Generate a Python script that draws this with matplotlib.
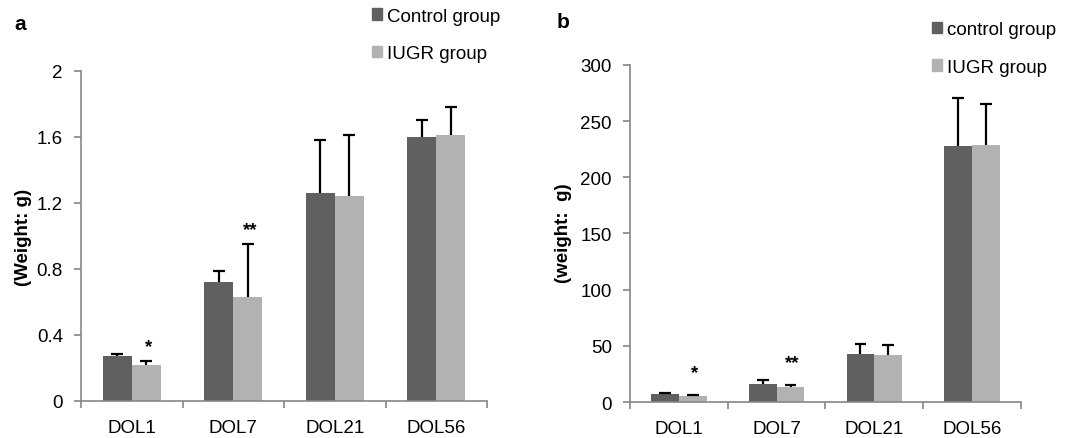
import numpy as np
import matplotlib
matplotlib.use("Agg")
import matplotlib.pyplot as plt
from matplotlib.patches import Patch

plt.rcParams['font.family'] = ['Liberation Sans', 'DejaVu Sans']

days = ['DOL1', 'DOL7', 'DOL21', 'DOL56']

# panel a: organ weight (g), mean and upper error
a_ctrl = [0.27, 0.72, 1.26, 1.60]
a_ctrl_sd = [0.015, 0.07, 0.32, 0.10]
a_iugr = [0.22, 0.63, 1.24, 1.61]
a_iugr_sd = [0.02, 0.32, 0.37, 0.17]
a_stars = ['*', '**', '', '']
a_ticks = [0, 0.4, 0.8, 1.2, 1.6, 2]
a_ticklabels = ['0', '0.4', '0.8', '1.2', '1.6', '2']

# panel b: body weight (g)
b_ctrl = [7, 16, 43, 228]
b_ctrl_sd = [0.8, 3.5, 9, 43]
b_iugr = [5.5, 13, 42, 229]
b_iugr_sd = [1.0, 2.0, 8.5, 36]
b_stars = ['*', '**', '', '']
b_ticks = [0, 50, 100, 150, 200, 250, 300]

dark = '#606060'
light = '#b2b2b2'
axcol = '#868686'
fs = 13.5

fig = plt.figure(figsize=(10.72, 4.39), dpi=100)
ax1 = fig.add_axes([0.0756, 0.0843, 0.3787, 0.7517])
ax2 = fig.add_axes([0.5877, 0.082, 0.3647, 0.7677])


def draw(ax, ctrl, ctrl_sd, iugr, iugr_sd, stars, ticks, ymax, star_pad):
    x = np.arange(len(days))
    w = 0.285
    ax.bar(x - w / 2, ctrl, w, color=dark, zorder=2)
    ax.bar(x + w / 2, iugr, w, color=light, zorder=2)
    for xs, m, s in [(x - w / 2, ctrl, ctrl_sd), (x + w / 2, iugr, iugr_sd)]:
        top = np.array(m) + np.array(s)
        ax.vlines(xs, m, top, color='black', lw=1.6, zorder=3)
        ax.hlines(top, xs - 0.06, xs + 0.06, color='black', lw=1.6, zorder=3)
    for i, st in enumerate(stars):
        if st:
            ax.text(x[i] + w / 2 + 0.02, iugr[i] + iugr_sd[i] + star_pad, st,
                    ha='center', va='center', fontsize=fs, fontweight='bold')
    ax.set_xlim(-0.5, len(days) - 0.5)
    ax.set_ylim(0, ymax)
    ax.set_yticks(ticks)
    ax.set_xticks(x)
    ax.set_xticklabels(days, fontsize=fs)
    ax.set_xticks(np.arange(len(days) + 1) - 0.5, minor=True)
    ax.tick_params(axis='x', which='major', length=0, pad=13)
    ax.tick_params(axis='x', which='minor', length=5, color=axcol, width=1.2)
    ax.tick_params(axis='y', length=5, color=axcol, width=1.2, labelsize=fs, pad=8)
    for sp in ['top', 'right']:
        ax.spines[sp].set_visible(False)
    for sp in ['left', 'bottom']:
        ax.spines[sp].set_color(axcol)
        ax.spines[sp].set_linewidth(1.2)


draw(ax1, a_ctrl, a_ctrl_sd, a_iugr, a_iugr_sd, a_stars, a_ticks, 2, 0.09)
ax1.set_yticklabels(a_ticklabels)
draw(ax2, b_ctrl, b_ctrl_sd, b_iugr, b_iugr_sd, b_stars, b_ticks, 300, 20)

fig.text(0.022, 0.46, '(Weight: g)', rotation=90, ha='center', va='center',
         fontsize=fs, fontweight='bold')
fig.text(0.526, 0.469, '(weight:  g)', rotation=90, ha='center', va='center',
         fontsize=fs, fontweight='bold')
fig.text(0.013, 0.945, 'a', fontsize=15, fontweight='bold', va='center')
fig.text(0.519, 0.948, 'b', fontsize=15, fontweight='bold', va='center')

leg_kw = dict(frameon=False, fontsize=fs, handlelength=0.55, handleheight=0.55,
              handletextpad=0.25, labelspacing=1.1, borderaxespad=0, borderpad=0)
fig.legend([Patch(color=dark), Patch(color=light)], ['Control group', 'IUGR group'],
           loc='upper left', bbox_to_anchor=(0.347, 0.98), **leg_kw)
fig.legend([Patch(color=dark), Patch(color=light)], ['control group', 'IUGR group'],
           loc='upper left', bbox_to_anchor=(0.869, 0.95), **leg_kw)

fig.savefig('out.png', dpi=100)
